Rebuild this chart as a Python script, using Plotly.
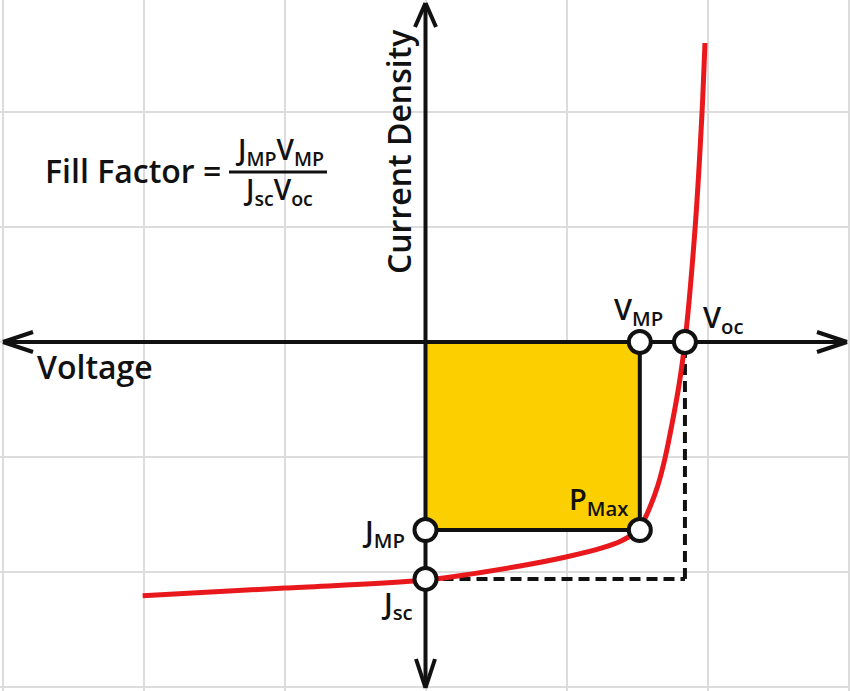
import plotly.graph_objects as go

# ---- data (grid units) ----
curve_v = [-2.006, -0.996, 0.0, 0.670, 0.996, 1.252, 1.387, 1.472, 1.535, 1.592, 1.649, 1.699,
           1.755, 1.798, 1.840, 1.911, 1.961, 1.982]
curve_j = [-2.206, -2.139, -2.070, -1.948, -1.870, -1.791, -1.730, -1.670, -1.583, -1.435, -1.243, -1.009,
           -0.670, -0.374, 0.0, 0.974, 1.991, 2.600]
V_MP = 1.52
V_OC = 1.84
J_MP = -1.635
J_SC = -2.06
point_names = ["V_MP", "V_oc", "P_Max", "J_MP", "J_sc"]
point_v = [V_MP, V_OC, V_MP, 0.0, 0.0]
point_j = [0.0, 0.0, J_MP, J_MP, J_SC]

W, H = 850, 691
X0PX, XUNIT = 425.5, 141.0
Y0PX, YUNIT = 342.0, 115.0


def dx(px):
    return (px - X0PX) / XUNIT


def dy(py):
    return (Y0PX - py) / YUNIT


FONT = "Open Sans"
BLACK = "#111111"

fig = go.Figure()

# red J-V curve
fig.add_trace(go.Scatter(x=curve_v, y=curve_j, mode="lines",
                         line=dict(color="#E8181C", width=5, shape="spline", smoothing=0.9),
                         hoverinfo="skip", showlegend=False))
# characteristic points
fig.add_trace(go.Scatter(x=point_v, y=point_j, mode="markers", text=point_names,
                         marker=dict(size=22, color="white", line=dict(color=BLACK, width=4)),
                         showlegend=False))

shapes = []
# yellow power rectangle
shapes.append(dict(type="rect", x0=0, x1=V_MP, y0=J_MP, y1=0, layer="between",
                   fillcolor="#FCD000", line=dict(width=0)))
# dashed Jsc*Voc box
dash_style = dict(color=BLACK, width=4, dash="11px,6px")
shapes.append(dict(type="line", x0=0, x1=V_OC, y0=J_SC, y1=J_SC, layer="between", line=dash_style))
shapes.append(dict(type="line", x0=V_OC, x1=V_OC, y0=J_SC, y1=0, layer="between", line=dash_style))
# rectangle edges
shapes.append(dict(type="line", x0=V_MP, x1=V_MP, y0=J_MP, y1=0, layer="between",
                   line=dict(color=BLACK, width=4)))
shapes.append(dict(type="line", x0=0, x1=V_MP, y0=J_MP, y1=J_MP, layer="between",
                   line=dict(color=BLACK, width=4)))
# axes
ax_style = dict(color=BLACK, width=4)
shapes.append(dict(type="line", x0=dx(4), x1=dx(846), y0=0, y1=0, layer="between", line=ax_style))
shapes.append(dict(type="line", x0=0, x1=0, y0=dy(4), y1=dy(686), layer="between", line=ax_style))
# arrow heads (chevrons)
for (tx, ty, ax1, ay1, ax2, ay2) in [
    (3, 342, 33, 332, 33, 352),
    (847, 342, 817, 332, 817, 352),
    (425.5, 3, 415, 27, 436, 27),
    (425.5, 688, 416, 659, 435, 659),
]:
    shapes.append(dict(type="line", x0=dx(tx), y0=dy(ty), x1=dx(ax1), y1=dy(ay1), layer="between", line=ax_style))
    shapes.append(dict(type="line", x0=dx(tx), y0=dy(ty), x1=dx(ax2), y1=dy(ay2), layer="between", line=ax_style))
# fraction bar
shapes.append(dict(type="line", x0=dx(229), x1=dx(327), y0=dy(172), y1=dy(172), layer="between",
                   line=dict(color=BLACK, width=3)))

anns = []


def ann(text, px, py, size, xanchor="center", yanchor="middle", angle=0):
    anns.append(dict(text=text, x=dx(px), y=dy(py), xref="x", yref="y", showarrow=False,
                     xanchor=xanchor, yanchor=yanchor, textangle=angle,
                     font=dict(family=FONT, size=size, color=BLACK, weight=600)))


ann("Voltage", 35, 366, 32, xanchor="left")
ann("Current Density", 398, 152, 32, angle=-90)
ann("Fill Factor =", 43, 170, 32, xanchor="left")
ann("J<sub>MP</sub>V<sub>MP</sub>", 279, 151, 28)
ann("J<sub>sc</sub>V<sub>oc</sub>", 278, 191, 28)
ann("V<sub>MP</sub>", 638, 310, 29)
ann("V<sub>oc</sub>", 723, 318, 29)
ann("P<sub>Max</sub>", 598, 500, 29)
ann("J<sub>MP</sub>", 383, 532, 29)
ann("J<sub>sc</sub>", 397, 604, 29)

fig.update_layout(
    width=W, height=H, margin=dict(l=0, r=0, t=0, b=0),
    paper_bgcolor="white", plot_bgcolor="white",
    shapes=shapes, annotations=anns, showlegend=False,
    xaxis=dict(range=[dx(0), dx(W)], tick0=0, dtick=1, showticklabels=False, ticks="",
               showgrid=True, gridcolor="#DCDCDC", gridwidth=2, zeroline=False, showline=False,
               fixedrange=True),
    yaxis=dict(range=[dy(H), dy(0)], tick0=0, dtick=1, showticklabels=False, ticks="",
               showgrid=True, gridcolor="#DCDCDC", gridwidth=2, zeroline=False, showline=False,
               fixedrange=True),
)

fig.write_html("out.html")
